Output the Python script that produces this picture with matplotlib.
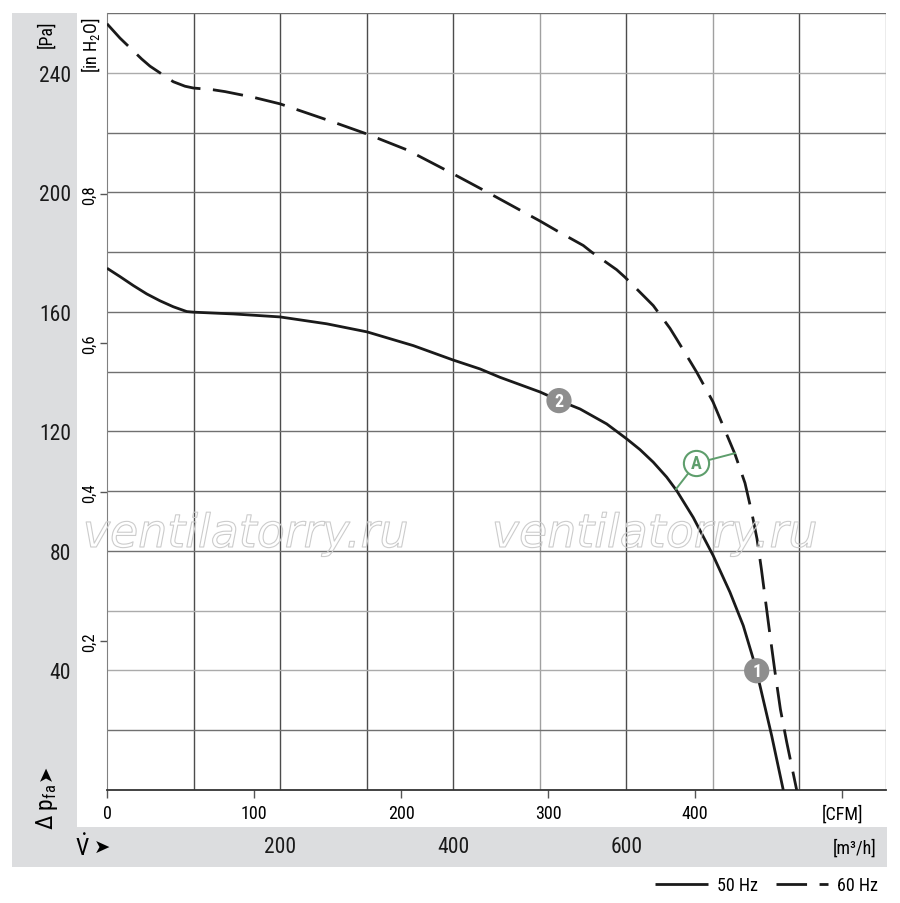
import numpy as np
import matplotlib.pyplot as plt
import matplotlib.patheffects as pe
from matplotlib import font_manager as fm
from matplotlib.patches import Rectangle


def first_font(names):
    for n in names:
        try:
            fm.findfont(fm.FontProperties(family=n), fallback_to_default=False)
            return n
        except ValueError:
            pass
    return 'DejaVu Sans'


FONT = first_font(['Roboto Condensed', 'Archivo Narrow', 'Fira Sans Condensed',
                   'IBM Plex Sans Condensed', 'Barlow Condensed'])
plt.rcParams['font.family'] = [FONT, 'DejaVu Sans']
plt.rcParams['mathtext.fontset'] = 'custom'
plt.rcParams['mathtext.rm'] = FONT
plt.rcParams['mathtext.it'] = FONT + ':italic'

# fan curves: volume flow [m3/h] vs pressure increase [Pa]
q_50 = [0, 15.0, 30.4, 45.9, 61.2, 76.6, 92.1, 99.7, 145.9, 199.9, 253.8, 300.4,
        353.9, 399.7, 430.9, 454.0, 500.2, 523.3, 546.5, 577.3, 600.4, 615.8,
        631.1, 646.6, 658.1, 677.3, 700.4, 719.7, 735.1, 746.7, 754.4, 767.9, 781.3]
p_50 = [174.6, 171.8, 168.8, 166.0, 163.7, 161.7, 160.1, 159.9, 159.3, 158.3, 156.0, 153.3,
        148.7, 143.9, 140.9, 138.1, 133.2, 130.2, 127.5, 122.5, 117.5, 113.9,
        109.7, 104.7, 100.2, 91.2, 78.4, 66.2, 55.0, 43.8, 34.9, 18.2, 0.0]

q_60 = [0, 15.0, 40.1, 49.7, 76.6, 90.1, 99.7, 122.8, 136.3, 169.0, 199.9, 257.6,
        300.4, 346.6, 399.7, 439.0, 500.2, 519.3, 550.3, 559.9, 588.8, 598.4,
        621.5, 631.1, 650.4, 658.1, 675.5, 681.3, 700.1, 725.5, 737.1, 744.8,
        751.0, 756.0, 760.5, 765.0, 771.5, 778.0, 785.3, 796.8]
p_60 = [256.4, 251.6, 244.6, 242.2, 237.0, 235.5, 234.9, 234.3, 233.7, 231.8, 229.6, 223.9,
        219.5, 214.2, 206.2, 200.1, 190.4, 187.2, 182.2, 180.0, 174.1, 171.6,
        164.9, 162.1, 154.5, 150.9, 142.6, 139.8, 129.9, 112.4, 102.7, 93.0,
        84.0, 74.0, 64.0, 54.0, 40.0, 27.0, 16.0, 0.0]

pa_ticks = [40, 80, 120, 160, 200, 240]
inh2o_ticks = [0.2, 0.4, 0.6, 0.8]
inh2o_labels = ['0,2', '0,4', '0,6', '0,8']
cfm_ticks = [0, 100, 200, 300, 400, 500]
cfm_labels = ['0', '100', '200', '300', '400', '[CFM]']
m3h_ticks = [200, 400, 600]
grid_q = [100, 200, 300, 400, 500, 600, 700, 800, 900]
grid_q_light = [500, 700, 900]
grid_p = [20, 40, 60, 80, 100, 120, 140, 160, 180, 200, 220, 240, 260]
grid_p_light = [40, 60, 240]

# numbered operating points
pt_labels = ['1', '2']
pt_q = [750.6, 522.2]
pt_p = [39.9, 130.3]
# point A with leader lines to both curves
a_q, a_p = 680.5, 109.3
a_lead_q = [657.4, 725.5]
a_lead_p = [100.7, 112.7]

PA_PER_INH2O = 249.09
M3H_PER_CFM = 1.699

W, H = 900, 904
fig = plt.figure(figsize=(W / 100, H / 100), dpi=100)

# gray label bands
grey = '#dcdddf'
fig.add_artist(Rectangle((12 / W, 1 - 828 / H), 65 / W, 814 / H, transform=fig.transFigure,
                         facecolor=grey, edgecolor='none', zorder=0))
fig.add_artist(Rectangle((12 / W, 1 - 868 / H), 875 / W, 40 / H, transform=fig.transFigure,
                         facecolor=grey, edgecolor='none', zorder=0))

ax = fig.add_axes([107 / W, 1 - 791 / H, 779 / W, 777 / H])
ax.set_xlim(0, 900)
ax.set_ylim(0, 260)

for q in grid_q:
    c = '#a0a0a0' if q in grid_q_light else '#4c4c4c'
    ax.axvline(q, color=c, lw=1.0, zorder=1)
for p in grid_p:
    c = '#ababab' if p in grid_p_light else '#707070'
    ax.axhline(p, color=c, lw=1.0, zorder=1)

for side in ['top', 'right']:
    ax.spines[side].set_visible(False)
ax.spines['left'].set_color('#808080')
ax.spines['bottom'].set_color('#333333')
ax.spines['bottom'].set_linewidth(1.3)

l50, = ax.plot(q_50, p_50, color='#1a1a1a', lw=2.0, zorder=3, solid_capstyle='butt',
               solid_joinstyle='round')
l60, = ax.plot(q_60, p_60, color='#1a1a1a', lw=2.0, zorder=3, dash_capstyle='butt',
               dash_joinstyle='round')
l60.set_dashes([11, 4.5])

ax.scatter(pt_q, pt_p, s=330, color='#8e8e8e', edgecolors='none', zorder=5)
for lab, q, p in zip(pt_labels, pt_q, pt_p):
    ax.text(q, p, lab, color='white', fontsize=13, fontweight='bold',
            ha='center', va='center', zorder=6)

green = '#5e9e6c'
for q, p in zip(a_lead_q, a_lead_p):
    ax.plot([a_q, q], [a_p, p], color=green, lw=1.4, zorder=4)
ax.scatter([a_q], [a_p], s=330, facecolor='white', edgecolors=green, linewidths=1.5, zorder=5)
ax.text(a_q, a_p, 'A', color=green, fontsize=13, fontweight='bold',
        ha='center', va='center', zorder=6)

# Pa scale (gray band) and m3/h scale (bottom band)
ax.set_yticks(pa_ticks)
ax.tick_params(axis='y', length=0, pad=26, labelsize=15.5, labelcolor='#1a1a1a')
ax.set_xticks(m3h_ticks)
ax.tick_params(axis='x', length=0, pad=33, labelsize=15.5, labelcolor='#1a1a1a')

# in H2O scale
sec_y = ax.secondary_yaxis('left', functions=(lambda p: p / PA_PER_INH2O,
                                              lambda h: h * PA_PER_INH2O))
sec_y.set_yticks(inh2o_ticks, inh2o_labels)
sec_y.tick_params(direction='out', length=5, width=1, color='#555555', pad=2,
                  labelsize=12, labelrotation=90)
sec_y.spines['left'].set_visible(False)
for t in sec_y.get_yticklabels():
    t.set_va('center')

# CFM scale
sec_x = ax.secondary_xaxis('bottom', functions=(lambda q: q / M3H_PER_CFM,
                                                lambda c: c * M3H_PER_CFM))
sec_x.set_xticks(cfm_ticks, cfm_labels)
sec_x.tick_params(direction='out', length=6, width=1, color='#555555', pad=4, labelsize=13)
sec_x.spines['bottom'].set_visible(False)

# axis titles
fig.text(46 / W, 1 - 34 / H, '[Pa]', rotation=90, ha='center', va='center', fontsize=13)
fig.text(91 / W, 1 - 45 / H, r'[in H$_2$O]', rotation=90, ha='center', va='center', fontsize=13)
fig.text(47 / W, 1 - 807 / H, r'Δ p$_{\mathrm{fa}}$', rotation=90, ha='center', va='center',
         fontsize=17)
fig.text(46 / W, 1 - 773 / H, '➤', rotation=90, ha='center', va='center', fontsize=14,
         family='DejaVu Sans')
fig.text(82 / W, 1 - 848 / H, r'$\dot{\mathrm{V}}$', ha='center', va='center', fontsize=17)
fig.text(102 / W, 1 - 848 / H, '➤', ha='center', va='center', fontsize=14, family='DejaVu Sans')
fig.text(876 / W, 1 - 849 / H, '[m³/h]', ha='right', va='center', fontsize=13)

# watermark
for xc in [246, 655]:
    fig.text(xc / W, 1 - 548 / H, 'ventilatorry.ru', ha='center', va='baseline',
             fontsize=33, style='italic', family='DejaVu Sans', color=(1, 1, 1, 0),
             path_effects=[pe.Stroke(linewidth=0.8, foreground='#cccccc')], zorder=10)

fig.legend(handles=[l50, l60], labels=['50 Hz', '60 Hz'], loc='center right',
           bbox_to_anchor=(878 / W, 1 - 886 / H), ncol=2, frameon=False, fontsize=13,
           handlelength=2.9, handletextpad=0.5, columnspacing=1.0, borderaxespad=0,
           borderpad=0)

fig.savefig('out.png', dpi=100)
